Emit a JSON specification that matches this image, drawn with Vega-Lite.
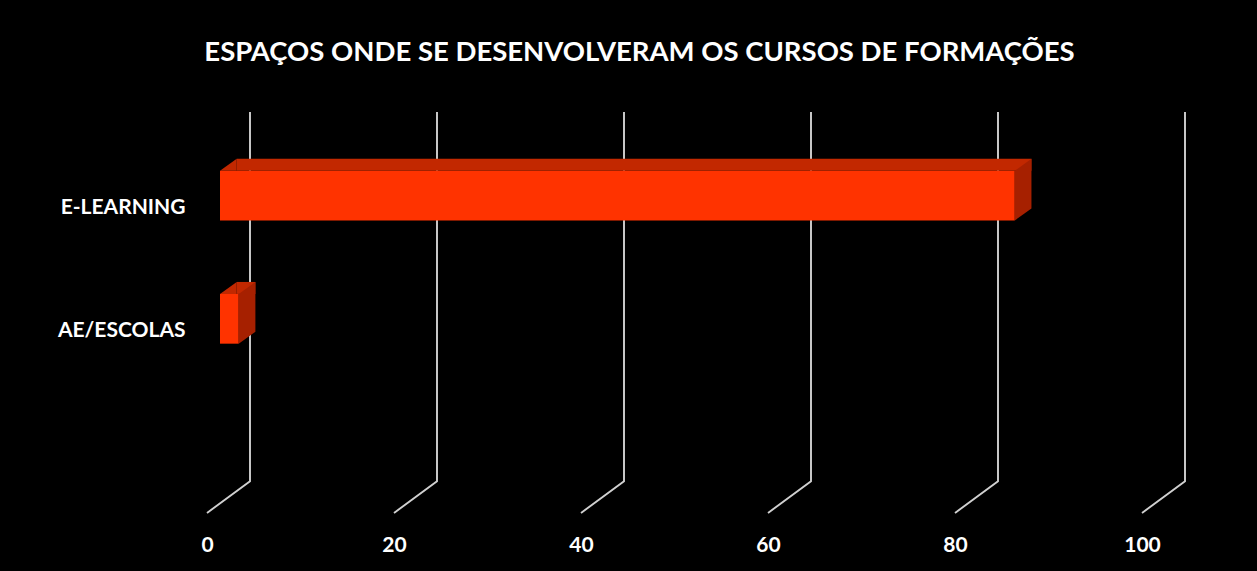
{
  "$schema": "https://vega.github.io/schema/vega-lite/v6.json",
  "width": 935,
  "height": 369.4,
  "autosize": {"type": "none"},
  "padding": {"left": 207, "top": 143.6, "right": 115, "bottom": 58},
  "background": "#000000",
  "title": {
    "text": "ESPAÇOS ONDE SE DESENVOLVERAM OS CURSOS DE FORMAÇÕES",
    "font": "Lato",
    "fontSize": 27.5,
    "fontWeight": "bold",
    "color": "#ffffff",
    "anchor": "middle",
    "dx": -35,
    "offset": 42,
    "frame": "group"
  },
  "config": {
    "view": {"stroke": null},
    "axis": {
      "labelFont": "Lato",
      "labelFontWeight": "bold",
      "labelColor": "#ffffff",
      "labelFontSize": 21,
      "domain": false,
      "ticks": false,
      "grid": false,
      "title": null
    }
  },
  "data": {
    "values": [
      {"cat": "E-LEARNING", "v": 85},
      {"cat": "AE/ESCOLAS", "v": 2}
    ]
  },
  "layer": [
    {
      "data": {"values": [{"t": 0}, {"t": 20}, {"t": 40}, {"t": 60}, {"t": 80}, {"t": 100}]},
      "mark": {"type": "point", "shape": "M0,0 L43,-31.6 L43,-401", "size": 4, "filled": false, "opacity": 1, "color": "#d0d0d0", "strokeWidth": 1.9, "yOffset": 61.5},
      "encoding": {
        "x": {"field": "t", "type": "quantitative", "scale": {"domain": [0, 100], "nice": false, "zero": true},
              "axis": {"values": [0, 20, 40, 60, 80, 100], "labelPadding": 21, "labelFlush": false}},
        "y": {"datum": "", "type": "nominal"}
      }
    },
    {
      "mark": {"type": "bar", "color": "#ff3300", "height": {"band": 0.404}, "xOffset": 13, "x2Offset": 13, "yOffset": -9.5, "y2Offset": -9.5},
      "encoding": {
        "x": {"field": "v", "type": "quantitative"},
        "y": {"field": "cat", "type": "nominal", "sort": null,
              "scale": {"domain": ["E-LEARNING", "AE/ESCOLAS", ""], "paddingInner": 0, "paddingOuter": 0},
              "axis": {"labelPadding": 22, "labelOffset": 3}}
      }
    },
    {
      "mark": {"type": "bar", "color": "#c22800", "height": 12, "xOffset": 29.7, "x2Offset": 29.7, "yOffset": -40.35, "y2Offset": -40.35},
      "encoding": {
        "x": {"field": "v", "type": "quantitative"},
        "y": {"field": "cat", "type": "nominal"}
      }
    },
    {
      "mark": {"type": "point", "shape": "M0,0 L16.7,-12 L16.7,0 Z", "size": 4, "filled": true, "opacity": 1, "strokeWidth": 0, "color": "#c22800", "xOffset": 13, "yOffset": -34.35},
      "encoding": {
        "x": {"datum": 0, "type": "quantitative"},
        "y": {"field": "cat", "type": "nominal"}
      }
    },
    {
      "mark": {"type": "point", "shape": "M0,0 L16.7,-12 L16.7,37.7 L0,49.7 Z", "size": 4, "filled": true, "opacity": 1, "strokeWidth": 0, "color": "#a62000", "xOffset": 13, "yOffset": -34.35},
      "encoding": {
        "x": {"field": "v", "type": "quantitative"},
        "y": {"field": "cat", "type": "nominal"}
      }
    }
  ]
}
